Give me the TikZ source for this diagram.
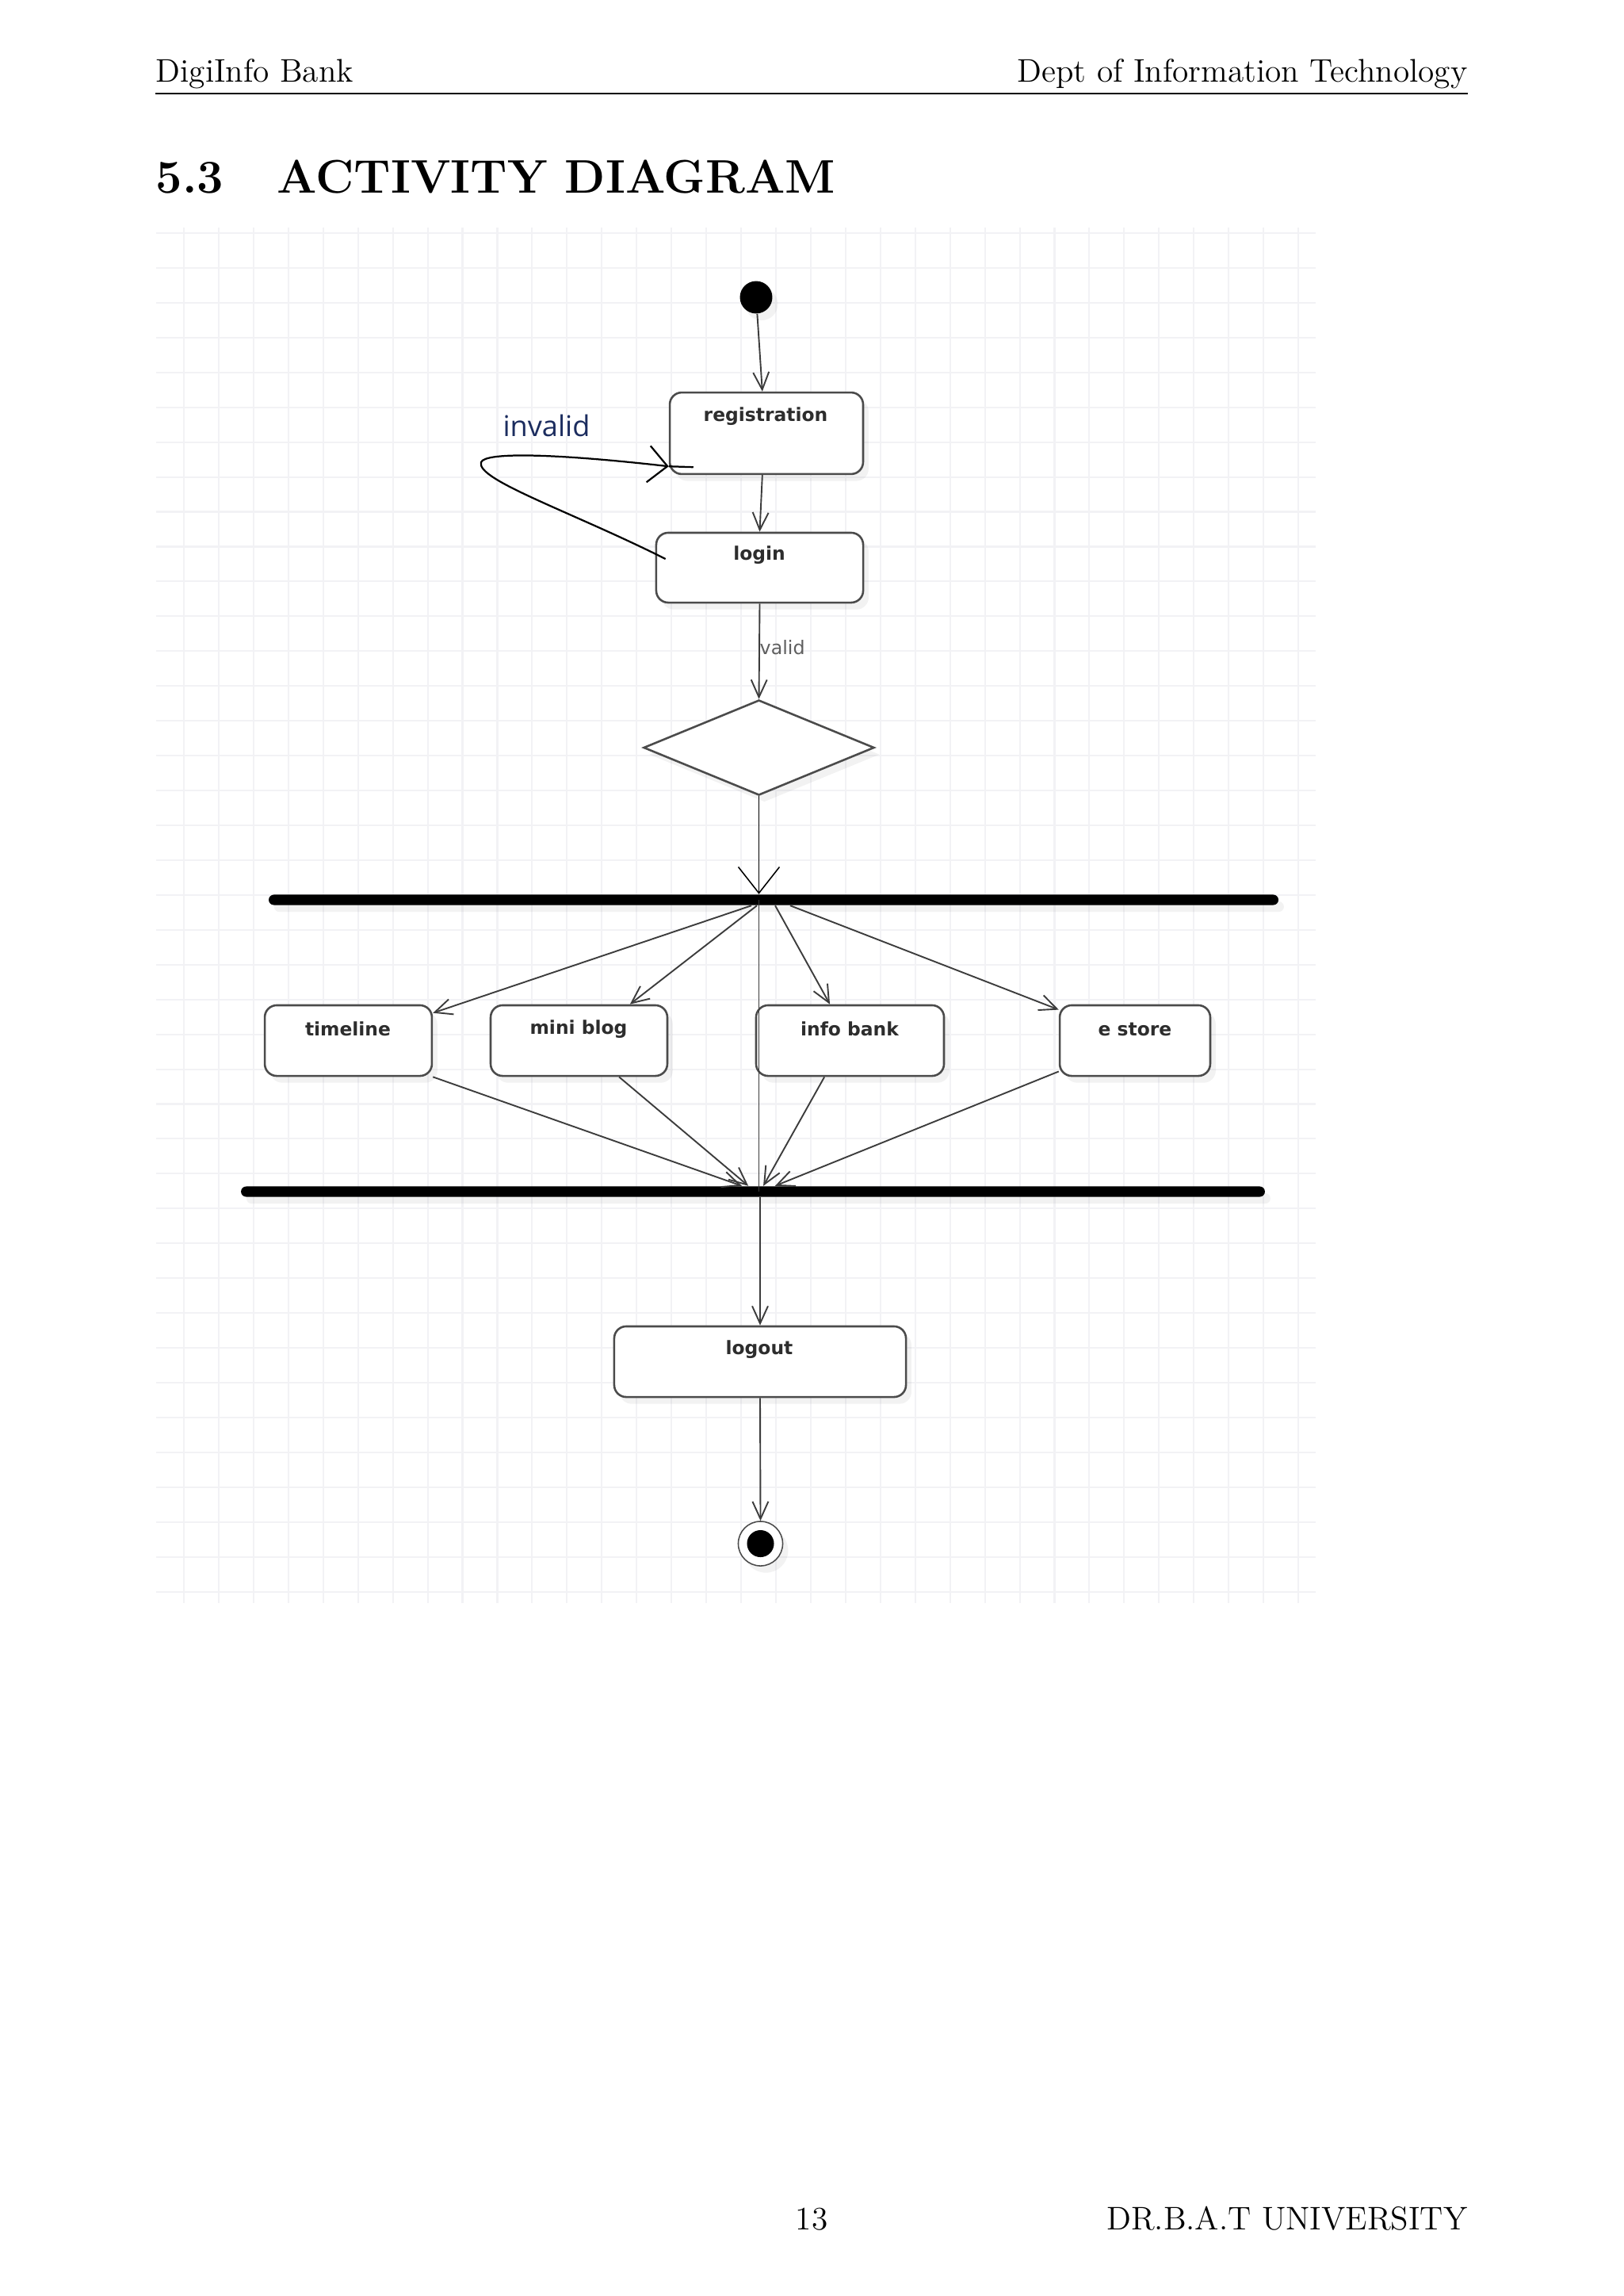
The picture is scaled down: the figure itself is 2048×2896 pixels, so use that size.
\documentclass[tikz,border=0pt]{standalone}
\usepackage{fontspec}
\usetikzlibrary{shapes.geometric,arrows.meta,shadows}
\newfontfamily\diagfont{DejaVu Sans}
\newfontfamily\invfont{Open Sans}
\definecolor{gridc}{RGB}{242,242,245}
\definecolor{linec}{RGB}{60,60,60}
\definecolor{boxc}{RGB}{75,75,75}
\definecolor{txtc}{RGB}{45,45,45}
\definecolor{invc}{RGB}{28,45,95}
\definecolor{validc}{RGB}{95,95,95}
\begin{document}
\begin{tikzpicture}[x=0.29066pt,y=-0.29066pt,
  softshadow/.style={drop shadow={shadow xshift=2pt,shadow yshift=-2.5pt,opacity=0.10}},
  actbox/.style={draw=boxc,line width=0.75pt,rounded corners=4.4pt,fill=white,inner sep=0pt,minimum height=25.9pt,softshadow},
  acttext/.style={font=\diagfont\bfseries\fontsize{6.8}{8}\selectfont,text=txtc,inner sep=0pt},
  decision/.style={diamond,draw=boxc,line width=0.75pt,fill=white,inner sep=0pt,minimum width=84.6pt,minimum height=34.9pt,softshadow},
  syncbar/.style={rectangle,fill=black,draw=none,inner sep=0pt,minimum height=3.8pt,rounded corners=1.9pt,softshadow},
  startnode/.style={circle,fill=black,inner sep=0pt,minimum size=11.9pt,softshadow},
  flow/.style={draw=linec,line width=0.55pt,-{Straight Barb[length=6.4pt,width=5.8pt]}},
  forkflow/.style={draw=black,line width=0.45pt,-{Straight Barb[length=9.6pt,width=15.1pt]}},
  invflow/.style={draw=black,line width=0.65pt,-{Straight Barb[length=7pt,width=13.4pt]}},
  gridline/.style={draw=gridc,line width=0.6pt},
  pagetext/.style={inner sep=0pt,font=\fontsize{12}{14}\selectfont},
  titletext/.style={inner sep=0pt,font=\fontsize{17.28}{20}\selectfont\bfseries}
]
\fill[white] (0,0) rectangle (2048,2896);
\useasboundingbox (0,0) rectangle (2048,2896);

% page header / footer
\node[pagetext,anchor=base west] (hl) at (196,103) {DigiInfo Bank};
\node[pagetext,anchor=base east] (hr) at (1852,103) {Dept of Information Technology};
\draw[line width=0.4pt] (196,118) -- (1852,118);
\node[titletext,anchor=base west] (tnum) at (196,243) {5.3};
\node[titletext,anchor=base west] (ttl) at (349,243) {ACTIVITY DIAGRAM};
\node[pagetext,anchor=base] (pg) at (1024,2812) {13};
\node[pagetext,anchor=base east] (uni) at (1852,2812) {DR.B.A.T UNIVERSITY};

% grid
\foreach \i in {0,...,32} \draw[gridline] (232+\i*43.94,287) -- (232+\i*43.94,2022);
\foreach \j in {0,...,39} \draw[gridline] (197,294+\j*43.94) -- (1660,294+\j*43.94);

% nodes
\node[startnode] (init) at (954,375) {};
\node[actbox,minimum width=70.9pt,minimum height=29.9pt] (reg) at (967,546.5) {};
\node[acttext] (regt) at (966,525) {registration};
\node[actbox,minimum width=75.9pt,minimum height=25.6pt] (login) at (958.5,716) {};
\node[acttext] (logint) at (958,700) {login};
\node[inner sep=0pt,anchor=west,text=validc,font=\diagfont\fontsize{6.9}{8}\selectfont] (validt) at (958,817) {valid};
\node[inner sep=0pt,text=invc,font=\invfont\fontsize{10.5}{12}\selectfont] (invt) at (689.5,537) {invalid};
\node[decision] (dia) at (957.5,943) {};
\node[syncbar,minimum width=370.3pt] (fork) at (976,1135) {};
\node[syncbar,minimum width=375.5pt] (join) at (950,1503) {};

\node[actbox,minimum width=61.3pt] (tl) at (439.5,1312.5) {};
\node[acttext] (tlt) at (439,1298) {timeline};
\node[actbox,minimum width=64.8pt] (mb) at (730.5,1312.5) {};
\node[acttext] (mbt) at (730,1298) {mini blog};
\node[actbox,minimum width=68.9pt] (ib) at (1072.5,1312.5) {};
\node[acttext] (ibt) at (1072,1298) {info bank};
\node[actbox,minimum width=55.2pt] (es) at (1432,1312.5) {};
\node[acttext] (est) at (1432,1298) {e store};

\node[actbox,minimum width=107pt] (logout) at (959,1717.5) {};
\node[acttext] (logoutt) at (958,1702) {logout};
\node[circle,draw=boxc,line width=0.45pt,fill=white,inner sep=0pt,minimum size=16.3pt,softshadow] (final) at (959.5,1947) {};
\node[circle,fill=black,inner sep=0pt,minimum size=9.9pt] (finalin) at (final.center) {};

% connectors
\draw[flow] (init) -- ([xshift=-1.5pt]reg.north);
\draw[flow] ([xshift=-1.5pt]reg.south) -- (login.north);
\draw[flow] (login.south) -- (dia.north);
\draw[forkflow] (dia.south) -- (fork.north -| dia.south);
\draw[draw=linec,line width=0.5pt] (fork.center -| dia.south) -- (join.center -| dia.south);

\draw[invflow] ([xshift=3.8pt,yshift=3.2pt]login.west) .. controls (720,645) and (600,605) .. (607,583)
   .. controls (612,570) and (700,572) .. ([yshift=3.2pt]reg.south west);
\draw[black,line width=0.65pt] ([yshift=3.2pt]reg.south west) -- ++(31,1);

\draw[flow] ([xshift=-8.1pt]fork.south) -- ([yshift=-3.2pt]tl.north east);
\draw[flow] ([xshift=-6.1pt]fork.south) -- ([xshift=18.7pt]mb.north);
\draw[flow] ([xshift=0.6pt]fork.south) -- ([xshift=-7.4pt]ib.north);
\draw[flow] ([xshift=6.1pt]fork.south) -- ([yshift=-2pt]es.north west);

\draw[flow] (tl.south east) -- ([xshift=-4.1pt]join.north);
\draw[flow] ([xshift=14.7pt]mb.south) -- ([xshift=-1.7pt]join.north);
\draw[flow] ([xshift=-9.4pt]ib.south) -- ([xshift=3.8pt]join.north);
\draw[flow] ([yshift=2pt]es.south west) -- ([xshift=8.1pt]join.north);

\draw[flow] (join.south -| logout.north) -- (logout.north);
\draw[flow] (logout.south) -- (final.north);
\end{tikzpicture}
\end{document}
